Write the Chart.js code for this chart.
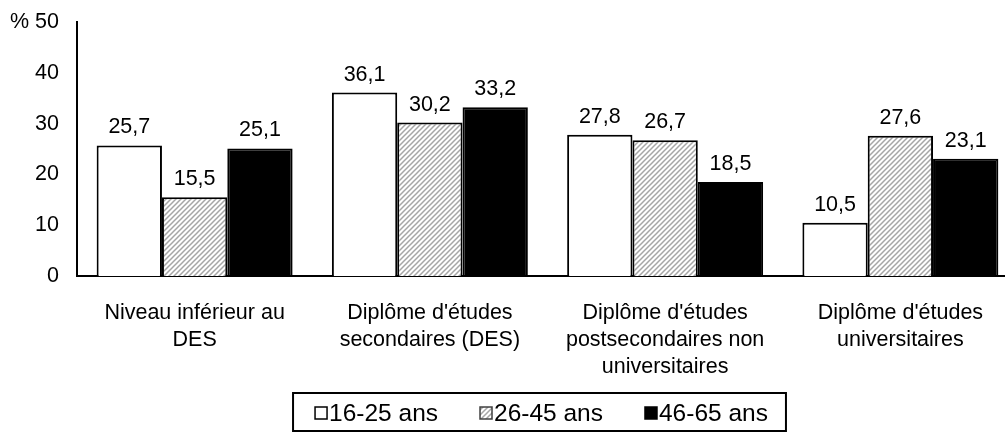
<!DOCTYPE html>
<html>
<head>
<meta charset="utf-8">
<script src="https://cdn.jsdelivr.net/npm/chart.js@4.4.1/dist/chart.umd.min.js"></script>
<style>
  html, body { margin: 0; padding: 0; background: #ffffff; overflow: hidden; }
  #wrap { width: 1005px; height: 432px; overflow: hidden; }
</style>
</head>
<body>
<div id="wrap"><canvas id="c" width="1030" height="432"></canvas></div>
<script>
const categories = [
  ["Niveau inférieur au", "DES"],
  ["Diplôme d'études", "secondaires (DES)"],
  ["Diplôme d'études", "postsecondaires non", "universitaires"],
  ["Diplôme d'études", "universitaires"]
];
const seriesNames = ["16-25 ans", "26-45 ans", "46-65 ans"];
const values1625 = [25.7, 36.1, 27.8, 10.5];
const values2645 = [15.5, 30.2, 26.7, 27.6];
const values4665 = [25.1, 33.2, 18.5, 23.1];
const yMin = 0, yMax = 50, yStep = 10;
const yTopLabel = "% 50";

const FONT = "'Liberation Sans', Arial, sans-serif";
const FS = 21.5;
const LFS = 24.5;

function makeHatch() {
  const s = 5;
  const c = document.createElement('canvas');
  c.width = s; c.height = s;
  const x = c.getContext('2d');
  x.fillStyle = '#ffffff';
  x.fillRect(0, 0, s, s);
  x.strokeStyle = '#a6a6a6';
  x.lineWidth = 1.5;
  x.beginPath();
  for (let k = -1; k <= 1; k++) {
    x.moveTo(k * s - 1, s + 1);
    x.lineTo(k * s + s + 1, -1);
  }
  x.stroke();
  return x.createPattern(c, 'repeat');
}
const hatch = makeHatch();

const valueLabels = {
  id: 'valueLabels',
  afterDatasetsDraw(chart) {
    const ctx = chart.ctx;
    ctx.save();
    ctx.font = FS + 'px ' + FONT;
    ctx.fillStyle = '#000';
    ctx.textAlign = 'center';
    ctx.textBaseline = 'alphabetic';
    chart.data.datasets.forEach((ds, i) => {
      const meta = chart.getDatasetMeta(i);
      meta.data.forEach((bar, j) => {
        const v = ds.data[j];
        ctx.fillText(v.toFixed(1).replace('.', ','), bar.x, bar.y - 12);
      });
    });
    ctx.restore();
  }
};

// Boxed legend drawn under the plot, centred on the plot area
const boxedLegend = {
  id: 'boxedLegend',
  afterDraw(chart) {
    const ctx = chart.ctx;
    const ca = chart.chartArea;
    const ds = chart.data.datasets;
    ctx.save();
    ctx.font = LFS + 'px ' + FONT;
    const box = 12, gapBT = 2, itemGap = 42;
    const widths = ds.map(d => ctx.measureText(d.label).width);
    const total = widths.reduce((a, w) => a + box + gapBT + w, 0) + itemGap * (ds.length - 1);
    const cx = (ca.left + ca.right) / 2 - 6;
    const cy = ca.bottom + 137;
    let x = cx - total / 2;
    const startX = x;
    ds.forEach((d, i) => {
      ctx.fillStyle = d.backgroundColor;
      ctx.fillRect(x, cy - box / 2, box, box);
      ctx.strokeStyle = i === 1 ? '#404040' : '#000';
      ctx.lineWidth = 1.5;
      ctx.strokeRect(x, cy - box / 2, box, box);
      ctx.fillStyle = '#000';
      ctx.textAlign = 'left';
      ctx.textBaseline = 'middle';
      ctx.fillText(d.label, x + box + gapBT, cy + 1);
      x += box + gapBT + widths[i] + itemGap;
    });
    const endX = x - itemGap;
    ctx.strokeStyle = '#000';
    ctx.lineWidth = 2;
    ctx.strokeRect(startX - 22, cy - 20, (endX + 18) - (startX - 22), 38);
    ctx.restore();
  }
};

new Chart(document.getElementById('c'), {
  type: 'bar',
  data: {
    labels: categories,
    datasets: [
      { label: seriesNames[0], data: values1625, backgroundColor: '#ffffff', borderColor: '#000000', borderWidth: 2 },
      { label: seriesNames[1], data: values2645, backgroundColor: hatch, borderColor: '#000000', borderWidth: 2 },
      { label: seriesNames[2], data: values4665, backgroundColor: '#000000', borderColor: '#000000', borderWidth: 2 }
    ]
  },
  options: {
    responsive: false,
    animation: false,
    layout: { padding: { left: 0, right: 12, top: 22, bottom: 0 } },
    datasets: { bar: { categoryPercentage: 0.833, barPercentage: 1.0 } },
    scales: {
      x: {
        afterFit(s) { s.height = 156; s.paddingLeft = 0; s.paddingRight = 0; },
        grid: { display: false, drawTicks: false },
        border: { display: true, color: '#000', width: 2 },
        ticks: { color: '#000', font: { family: FONT, size: FS, lineHeight: 1.256 }, padding: 24, maxRotation: 0, autoSkip: false }
      },
      y: {
        min: yMin, max: yMax,
        afterFit(s) { s.width = 77; s.paddingTop = 0; s.paddingBottom = 0; },
        grid: { display: false, drawTicks: false },
        border: { display: true, color: '#000', width: 2 },
        ticks: {
          stepSize: yStep,
          color: '#000', font: { family: FONT, size: FS }, padding: 18,
          callback: v => (v === yMax ? yTopLabel : String(v))
        }
      }
    },
    plugins: {
      legend: { display: false },
      tooltip: { enabled: false }
    }
  },
  plugins: [valueLabels, boxedLegend]
});
</script>
</body>
</html>
